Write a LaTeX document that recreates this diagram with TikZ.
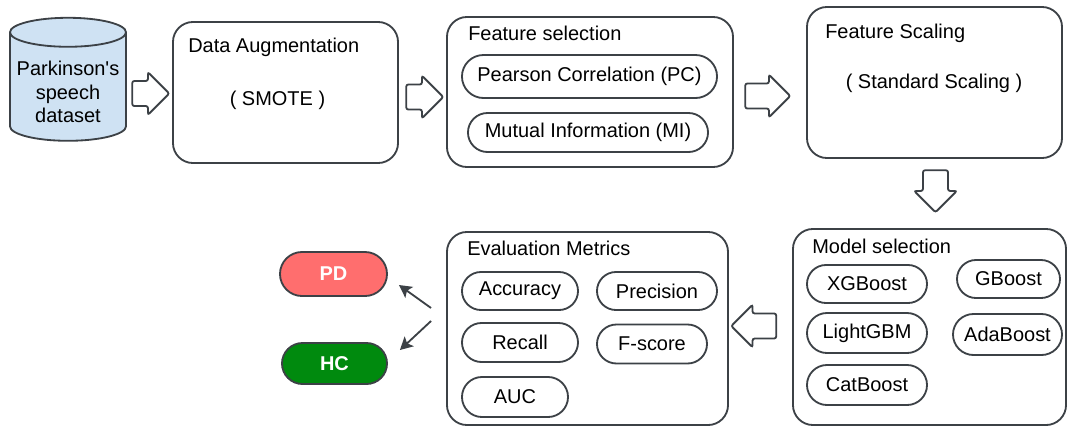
\documentclass[tikz,border=0pt]{standalone}
\usepackage{fontspec}
\setmainfont{Liberation Sans}[Ligatures=TeXOff]
\usepackage{tikz}
\usetikzlibrary{shapes.geometric,shapes.arrows,shapes.misc,arrows.meta}
\definecolor{linegray}{HTML}{3C4146}
\definecolor{dbblue}{HTML}{CFE2F3}
\definecolor{pdred}{HTML}{FF6E6E}
\definecolor{hcgreen}{HTML}{008A0E}
\newcommand{\diagfont}{\fontsize{14.2}{17}\selectfont}
\tikzstyle{box} = [draw=linegray, line width=1.3pt, rectangle,
    rounded corners=0.5cm, inner sep=0pt]
\tikzstyle{pill} = [draw=linegray, line width=1.3pt, rounded rectangle,
    minimum height=0.95cm, inner sep=0pt]
\tikzstyle{title} = [anchor=west, inner sep=0pt]
\tikzstyle{bigarrow} = [draw=linegray, line width=1.3pt, single arrow,
    single arrow head extend=0.22cm, inner xsep=0pt, inner ysep=0.29cm,
    rounded corners=1.5pt, minimum height=1.1cm]
\tikzstyle{result} = [pill, font=\diagfont\bfseries, text=white]
\tikzstyle{link} = [draw=linegray, line width=1.3pt,
    -{Stealth[length=9pt,width=9.5pt,inset=2pt]}]

\begin{document}
\begin{tikzpicture}[x=0.025cm, y=-0.025cm, font=\diagfont]
	\useasboundingbox (0,0) rectangle (1067,428);

	% Dataset
	\node [draw=linegray, line width=1.3pt, fill=dbblue, cylinder,
			shape border rotate=90, aspect=0.25, inner sep=0pt,
			minimum height=3.075cm] (data) at (68,87)
		{\raisebox{-0.25cm}[0pt][0pt]{\parbox{2.9cm}{\centering Parkinson's\\speech\\dataset}}};
	\node [bigarrow, minimum height=0.925cm] (a1) at (144.5,93.5) {};

	% Data augmentation
	\node [box, minimum width=5.625cm, minimum height=3.525cm] (aug) at (285.5,92.5) {};
	\node [title] (augtitle) at (188,47) {Data Augmentation};
	\node (smote) at (277.5,100) {( SMOTE )};
	\node [bigarrow, minimum height=0.925cm] (a2) at (418.5,97) {};

	% Feature selection
	\node [box, minimum width=7.15cm, minimum height=3.75cm] (sel) at (590,92) {};
	\node [title] (seltitle) at (468,33) {Feature selection};
	\node [pill, minimum width=6.375cm, minimum height=1.075cm] (pc) at (589.5,76.5) {Pearson Correlation (PC)};
	\node [pill, minimum width=6cm, minimum height=0.975cm] (mi) at (588,132.5) {Mutual Information (MI)};
	\node [bigarrow, minimum height=1.125cm] (a3) at (761.5,96) {};

	% Feature scaling
	\node [box, minimum width=6.375cm, minimum height=3.775cm] (scale) at (934.5,82.5) {};
	\node [title] (scaletitle) at (825,33) {Feature Scaling};
	\node (std) at (934,83) {( Standard Scaling )};
	\node [bigarrow, rotate=-90, minimum height=1.05cm] (a4) at (935.5,185) {};

	% Model selection
	\node [box, minimum width=6.825cm, minimum height=4.9cm] (model) at (929.5,327) {};
	\node [title] (modeltitle) at (812,246) {Model selection};
	\node [pill, minimum width=3cm] (xgb) at (867,284) {XGBoost};
	\node [pill, minimum width=2.575cm] (gb) at (1008.5,279) {GBoost};
	\node [pill, minimum width=3cm, minimum height=1cm] (lgbm) at (867,333) {LightGBM};
	\node [pill, minimum width=2.725cm, minimum height=1.025cm] (ada) at (1007.5,334.5) {AdaBoost};
	\node [pill, minimum width=3cm, minimum height=1cm] (cat) at (867,385) {CatBoost};
	\node [bigarrow, rotate=180, minimum height=1.125cm] (a5) at (760,326) {};

	% Evaluation metrics
	\node [box, minimum width=7.025cm, minimum height=4.825cm] (eval) at (587.5,328.5) {};
	\node [title] (evaltitle) at (467,248) {Evaluation Metrics};
	\node [pill, minimum width=2.9cm] (acc) at (520,291) {Accuracy};
	\node [pill, minimum width=3cm] (prec) at (657,291) {Precision};
	\node [pill, minimum width=2.9cm, minimum height=0.975cm] (rec) at (520,342.5) {Recall};
	\node [pill, minimum width=2.75cm, minimum height=0.975cm] (fsc) at (652,344) {F-score};
	\node [pill, minimum width=2.65cm, minimum height=1cm] (auc) at (515,397) {AUC};

	% Outcome
	\node [result, fill=pdred, minimum width=2.675cm, minimum height=1.1cm] (pd) at (333.5,274) {PD};
	\node [result, fill=hcgreen, minimum width=2.625cm, minimum height=1.025cm] (hc) at (334.5,363.5) {HC};
	\draw [link] ([shift={(-15,-20.5)}]eval.west) -- ([shift={(11,11)}]pd.east);
	\draw [link] ([shift={(-15,-7.5)}]eval.west) -- ([shift={(12,-13.5)}]hc.east);
\end{tikzpicture}
\end{document}
